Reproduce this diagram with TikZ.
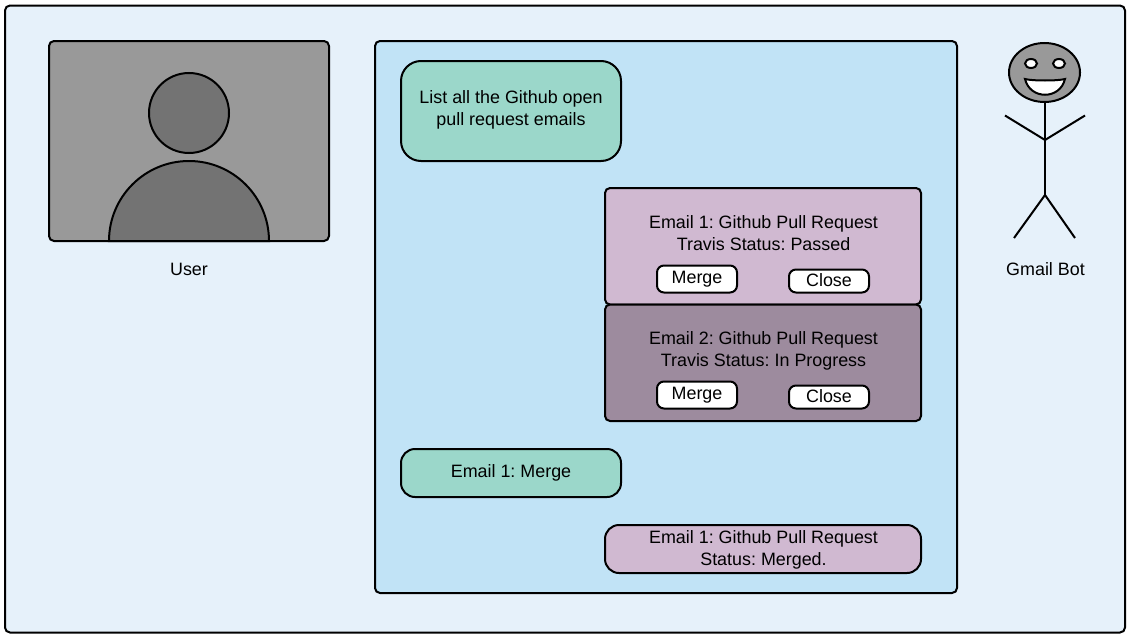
\documentclass[tikz,border=0pt]{standalone}
\usepackage{fontspec}
\setmainfont{Liberation Sans}
\frenchspacing
\tikzset{
  x=1pt,y=-1pt,
  panel/.style={draw=black,line width=2pt,rounded corners=5pt},
  bubble/.style={panel,rounded corners=20pt,fill=green1},
  lab/.style={font=\frenchspacing\fontsize{17.9}{22}\selectfont,align=center,text=black,inner sep=0pt},
  btn/.style={draw=black,line width=2pt,rounded corners=7pt,fill=white,font=\fontsize{17.9}{22}\selectfont,minimum height=1pt,inner sep=0pt,text=black},
  stick/.style={draw=black,line width=2pt},
}
\definecolor{bg}{HTML}{E6F1FA}
\definecolor{blue1}{HTML}{C1E3F6}
\definecolor{green1}{HTML}{9BD7CA}
\definecolor{mauve}{HTML}{D0B9D1}
\definecolor{mauved}{HTML}{9D8B9E}
\definecolor{grayl}{HTML}{999999}
\definecolor{grayd}{HTML}{737373}
\begin{document}
\begin{tikzpicture}
\useasboundingbox (0,0) rectangle (1129,637);
\path[panel,fill=bg] (5,5.5) rectangle (1125,632.5);
% user
\path[panel,fill=grayl] (49,41) rectangle (329,241);
\path[draw=black,line width=2pt,fill=grayd] (189,113) circle (40);
\path[draw=black,line width=2pt,fill=grayd] (109,241) arc[start angle=180,end angle=360,radius=80] -- cycle;
\node[lab] (user) at (189,269) {User};
% chat panel
\path[panel,fill=blue1] (375,41) rectangle (957,593);
\path[bubble] (401,61) rectangle (621,161);
\node[lab] (q1) at (511,110) {List all the Github open\\pull request emails};
\path[panel,fill=mauve] (605,188) rectangle (921,304.5);
\node[lab] (e1) at (763.5,233.5) {Email 1: Github Pull Request\\Travis Status: Passed};
\node[btn,minimum width=80pt,minimum height=27pt] (m1) at (697,279) {\raisebox{2pt}{Merge}};
\node[btn,minimum width=80pt,minimum height=23pt] (c1) at (829,281) {\raisebox{1pt}{Close}};
\path[panel,fill=mauved] (605,304.5) rectangle (921,421);
\node[lab] (e2) at (763.5,351) {Email 2: Github Pull Request\\Travis Status: In Progress};
\node[btn,minimum width=80pt,minimum height=27pt] (m2) at (697,395) {\raisebox{2pt}{Merge}};
\node[btn,minimum width=80pt,minimum height=23pt] (c2) at (829,397) {\raisebox{1pt}{Close}};
\path[panel,rounded corners=14pt,fill=green1] (401,449) rectangle (621,497);
\node[lab] (q2) at (511,472.5) {Email 1: Merge};
\path[panel,rounded corners=14pt,fill=mauve] (605,525) rectangle (921,573);
\node[lab] (e3) at (763.5,550) {Email 1: Github Pull Request\\Status: Merged.};
% bot
\path[draw=black,line width=2pt,fill=grayl] (1044.5,72.5) ellipse (35.5 and 29.5);
\path[draw=black,line width=2pt,fill=white] (1031,63.5) ellipse (6 and 4.5);
\path[draw=black,line width=2pt,fill=white] (1059,63.5) ellipse (6 and 4.5);
\path[draw=black,line width=2pt,fill=white] (1025,79) .. controls (1032,81) and (1058,81) .. (1065,79) .. controls (1060,100) and (1030,100) .. (1025,79) -- cycle;
\coordinate (neck) at (1045,102);
\coordinate (chest) at (1045,140);
\coordinate (hip) at (1045,195);
\path[stick] (neck) -- (hip);
\path[stick] (1005,115.5) -- (chest) -- (1085,115.5);
\path[stick] (1014,238) -- (hip) -- (1075,238);
\node[lab] (bot) at (1045.5,269) {Gmail Bot};
\end{tikzpicture}
\end{document}
